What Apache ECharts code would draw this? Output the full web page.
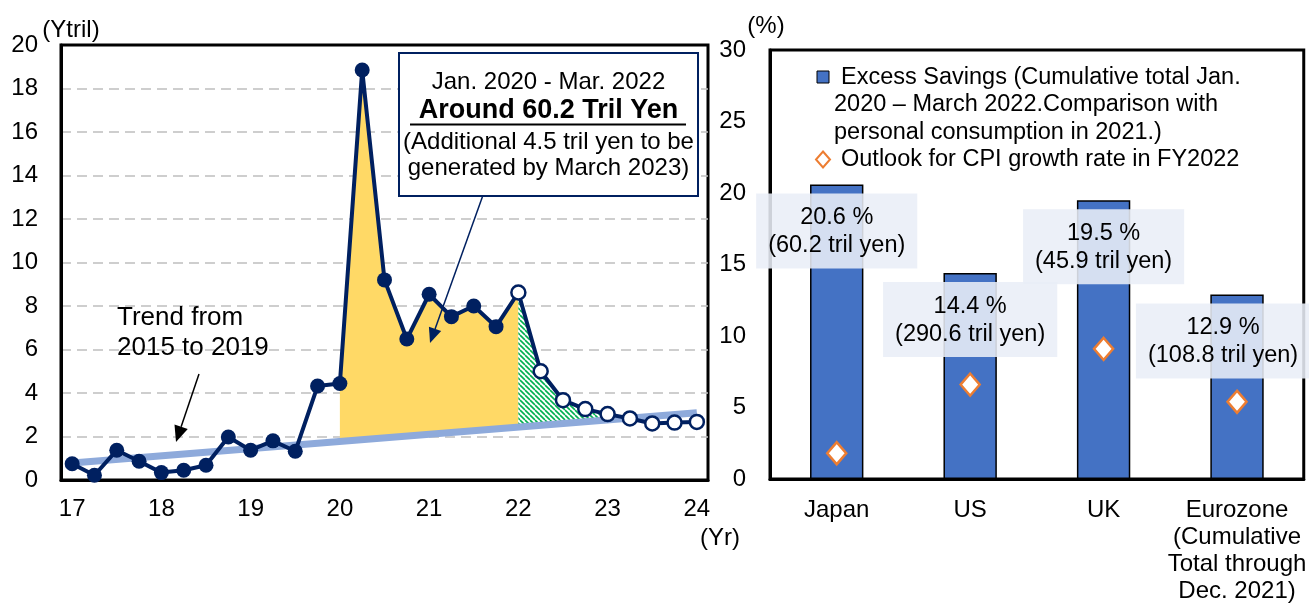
<!DOCTYPE html>
<html>
<head>
<meta charset="utf-8">
<script src="https://cdn.jsdelivr.net/npm/echarts@6/dist/echarts.min.js"></script>
<style>
  html, body { margin: 0; padding: 0; background: #fff; }
  #container { width: 1309px; height: 608px; }
</style>
</head>
<body>
<div id="container"></div>
<script>
// left panel: quarterly excess savings (tril yen)
const quarters = ['17Q1','17Q2','17Q3','17Q4','18Q1','18Q2','18Q3','18Q4',
                  '19Q1','19Q2','19Q3','19Q4','20Q1','20Q2','20Q3','20Q4',
                  '21Q1','21Q2','21Q3','21Q4','22Q1','22Q2','22Q3','22Q4',
                  '23Q1','23Q2','23Q3','23Q4','24Q1'];
const excessSavings = [0.75, 0.22, 1.37, 0.86, 0.34, 0.45, 0.68, 1.98,
                       1.37, 1.8, 1.32, 4.32, 4.44, 18.85, 9.2, 6.48,
                       8.54, 7.51, 8.0, 7.05, 8.62, 5.0, 3.67, 3.26,
                       3.03, 2.83, 2.6, 2.64, 2.67];
const firstOutlook = 20;      // from 2022Q1 on: outlook (open markers)
const fillStart = 12;         // 2020Q1
const trendStart = 0.78;      // trend 2015-2019, value at 17Q1
const trendEnd = 3.09;        // value at 24Q1

// right panel
const regions = ['Japan', 'US', 'UK', 'Eurozone\n(Cumulative\nTotal through\nDec. 2021)'];
const savingsRatio = [20.6, 14.4, 19.5, 12.9];
const savingsYen = ['60.2', '290.6', '45.9', '108.8'];
const cpiOutlook = [1.8, 6.6, 9.1, 5.4];

const FONT = 'Liberation Sans, Arial, sans-serif';
const NAVY = '#002060';

// green hatch for the outlook part
const hatch = document.createElement('canvas');
hatch.width = 5; hatch.height = 5;
(function () {
  const c = hatch.getContext('2d');
  c.fillStyle = '#fff';
  c.fillRect(0, 0, 5, 5);
  c.strokeStyle = '#00b050';
  c.lineWidth = 1.6;
  [-5, 0, 5].forEach(o => {
    c.beginPath(); c.moveTo(o, 0); c.lineTo(o + 5, 5); c.stroke();
  });
})();

function arrow(x0, y0, x1, y1, color, width, headLen, headW) {
  const dx = x1 - x0, dy = y1 - y0, len = Math.sqrt(dx * dx + dy * dy);
  const ux = dx / len, uy = dy / len;
  const bx = x1 - ux * headLen, by = y1 - uy * headLen;
  return [
    { type: 'line', shape: { x1: x0, y1: y0, x2: bx, y2: by }, style: { stroke: color, lineWidth: width }, z: 100 },
    { type: 'polygon', shape: { points: [[x1, y1], [bx - uy * headW / 2, by + ux * headW / 2], [bx + uy * headW / 2, by - ux * headW / 2]] },
      style: { fill: color }, z: 100 }
  ];
}

function txt(text, x, y, font, align) {
  return {
    type: 'text', x: x, y: y, z: 101,
    style: { text: text, font: font + ' ' + FONT, fill: '#000', textAlign: align || 'center', textVerticalAlign: 'middle' }
  };
}

const lineData = excessSavings.map((v, i) => i < firstOutlook ? v : {
  value: v,
  symbolSize: 14,
  itemStyle: { color: '#fff', borderColor: NAVY, borderWidth: 2.5 }
});
const trendData = quarters.map((q, i) => i === 0 ? trendStart : (i === quarters.length - 1 ? trendEnd : null));

let chart = echarts.init(document.getElementById('container'));

chart.setOption({
  animation: false,
  textStyle: { fontFamily: FONT, color: '#000' },
  grid: [
    { left: 61, top: 45, width: 647, height: 435, show: true, borderColor: '#000', borderWidth: 3 },
    { left: 770, top: 50, width: 537, height: 429, show: true, borderColor: '#000', borderWidth: 3 }
  ],
  xAxis: [{
    gridIndex: 0,
    type: 'category',
    data: quarters,
    boundaryGap: true,
    name: '(Yr)',
    nameLocation: 'end',
    nameGap: 12,
    nameTextStyle: { fontSize: 24, color: '#000', align: 'center', verticalAlign: 'top', padding: [46, 0, 0, 0] },
    axisLine: { lineStyle: { color: '#000', width: 3 } },
    axisTick: { interval: 3, inside: true, length: 8, lineStyle: { color: '#000', width: 2 } },
    axisLabel: { interval: 3, fontSize: 24, color: '#000', margin: 17, formatter: v => v.slice(0, 2) }
  }, {
    gridIndex: 1,
    type: 'category',
    data: regions,
    axisLine: { lineStyle: { color: '#000', width: 3 } },
    axisTick: { show: false },
    axisLabel: { fontSize: 24, color: '#000', margin: 18, lineHeight: 27, interval: 0 }
  }],
  yAxis: [{
    gridIndex: 0,
    type: 'value',
    min: 0, max: 20, interval: 2,
    name: '(Ytril)',
    nameLocation: 'end',
    nameGap: 15,
    nameTextStyle: { fontSize: 24, color: '#000', align: 'center', verticalAlign: 'middle', padding: [0, 0, 0, 20] },
    axisLine: { show: true, lineStyle: { color: '#000', width: 3 } },
    axisTick: { show: false },
    axisLabel: { fontSize: 24, color: '#000', margin: 23 },
    splitLine: { showMinLine: false, showMaxLine: false, lineStyle: { color: '#bfbfbf', width: 1.5, type: [10, 6] } }
  }, {
    gridIndex: 1,
    type: 'value',
    min: 0, max: 30, interval: 5,
    name: '(%)',
    nameLocation: 'end',
    nameGap: 16,
    nameTextStyle: { fontSize: 24, color: '#000', align: 'center', verticalAlign: 'middle', padding: [0, 8, 0, 0] },
    axisLine: { show: true, lineStyle: { color: '#000', width: 3 } },
    axisTick: { show: false },
    axisLabel: { fontSize: 24, color: '#000', margin: 24 },
    splitLine: { show: false }
  }],
  series: [{
    name: 'fill',
    type: 'custom',
    xAxisIndex: 0, yAxisIndex: 0,
    silent: true,
    z: 1,
    data: [[0, 0]],
    renderItem: function (params, api) {
      const n = quarters.length - 1;
      const t0 = api.coord([0, trendStart]), t1 = api.coord([n, trendEnd]);
      const trendAt = i => [t0[0] + (t1[0] - t0[0]) * i / n, t0[1] + (t1[1] - t0[1]) * i / n];
      const pt = i => api.coord([i, excessSavings[i]]);
      const yellow = [];
      for (let i = fillStart; i <= firstOutlook; i++) yellow.push(pt(i));
      yellow.push(trendAt(firstOutlook), trendAt(fillStart));
      const green = [];
      let k = firstOutlook;
      while (k < n && pt(k + 1)[1] < trendAt(k + 1)[1]) k++;
      for (let i = firstOutlook; i <= k; i++) green.push(pt(i));
      const a = pt(k), b = pt(k + 1);
      const da = trendAt(k)[1] - a[1], db = trendAt(k + 1)[1] - b[1];
      const f = da / (da - db);
      green.push([a[0] + (b[0] - a[0]) * f, a[1] + (b[1] - a[1]) * f]);
      green.push(trendAt(firstOutlook));
      return {
        type: 'group',
        children: [
          { type: 'polygon', shape: { points: yellow }, style: { fill: '#ffd966' } },
          { type: 'polygon', shape: { points: green }, style: { fill: { image: hatch, repeat: 'repeat' } } }
        ]
      };
    }
  }, {
    name: 'trend',
    type: 'line',
    xAxisIndex: 0, yAxisIndex: 0,
    data: trendData,
    connectNulls: true,
    symbol: 'none',
    z: 2,
    lineStyle: { color: '#8eaadb', width: 7 }
  }, {
    name: 'excess savings',
    type: 'line',
    xAxisIndex: 0, yAxisIndex: 0,
    data: lineData,
    symbol: 'circle',
    symbolSize: 15,
    showAllSymbol: true,
    z: 3,
    lineStyle: { color: NAVY, width: 4 },
    itemStyle: { color: NAVY }
  }, {
    name: 'Excess Savings',
    type: 'bar',
    xAxisIndex: 1, yAxisIndex: 1,
    barWidth: '40%',
    data: savingsRatio.map((v, i) => i === 3 ? { value: v, label: { offset: [-14, 0] } } : v),
    itemStyle: { color: '#4472c4', borderColor: '#000', borderWidth: 1.5 },
    label: {
      show: true,
      position: 'insideTop',
      distance: 9,
      fontSize: 23.5,
      lineHeight: 28,
      color: '#000',
      backgroundColor: 'rgba(233,238,247,0.88)',
      padding: [10, 12, 9, 12],
      formatter: p => p.value + ' %\n(' + savingsYen[p.dataIndex] + ' tril yen)'
    }
  }, {
    name: 'Outlook for CPI growth rate in FY2022',
    type: 'scatter',
    xAxisIndex: 1, yAxisIndex: 1,
    data: cpiOutlook,
    symbol: 'diamond',
    symbolSize: [19, 22],
    z: 5,
    itemStyle: { color: '#fff', borderColor: '#ed7d31', borderWidth: 2.5, opacity: 1 }
  }],
  graphic: [
    // annotation box
    { type: 'rect', shape: { x: 399, y: 53, width: 299, height: 143 }, style: { fill: '#fff', stroke: NAVY, lineWidth: 2 }, z: 99 },
    txt('Jan. 2020 - Mar. 2022', 548.5, 82, '24px'),
    txt('Around 60.2 Tril Yen', 548.5, 111, 'bold 27px'),
    { type: 'line', shape: { x1: 410, y1: 124.5, x2: 686, y2: 124.5 }, style: { stroke: '#000', lineWidth: 2 }, z: 101 },
    txt('(Additional 4.5 tril yen to be', 548.5, 142, '24px'),
    txt('generated by March 2023)', 548.5, 168.5, '24px'),
    ...arrow(482.7, 196, 430, 343, NAVY, 1.5, 15, 13),
    // trend note
    txt('Trend from', 117, 318, '26px', 'left'),
    txt('2015 to 2019', 117, 348, '26px', 'left'),
    ...arrow(199, 374, 176, 442, '#000', 1.5, 16, 14),
    // legend of the right panel
    { type: 'rect', shape: { x: 817, y: 71, width: 12, height: 12 }, style: { fill: '#4472c4', stroke: '#000', lineWidth: 1 }, z: 101 },
    txt('Excess Savings (Cumulative total Jan.', 841, 77.5, '23.5px', 'left'),
    txt('2020 \u2013 March 2022.Comparison with', 834, 105, '23.5px', 'left'),
    txt('personal consumption in 2021.)', 834, 132.5, '23.5px', 'left'),
    { type: 'polygon', shape: { points: [[823, 151.5], [830, 159.5], [823, 167.5], [816, 159.5]] }, style: { fill: '#fff', stroke: '#ed7d31', lineWidth: 2 }, z: 101 },
    txt('Outlook for CPI growth rate in FY2022', 841, 159.5, '23.5px', 'left')
  ]
});
</script>
</body>
</html>
